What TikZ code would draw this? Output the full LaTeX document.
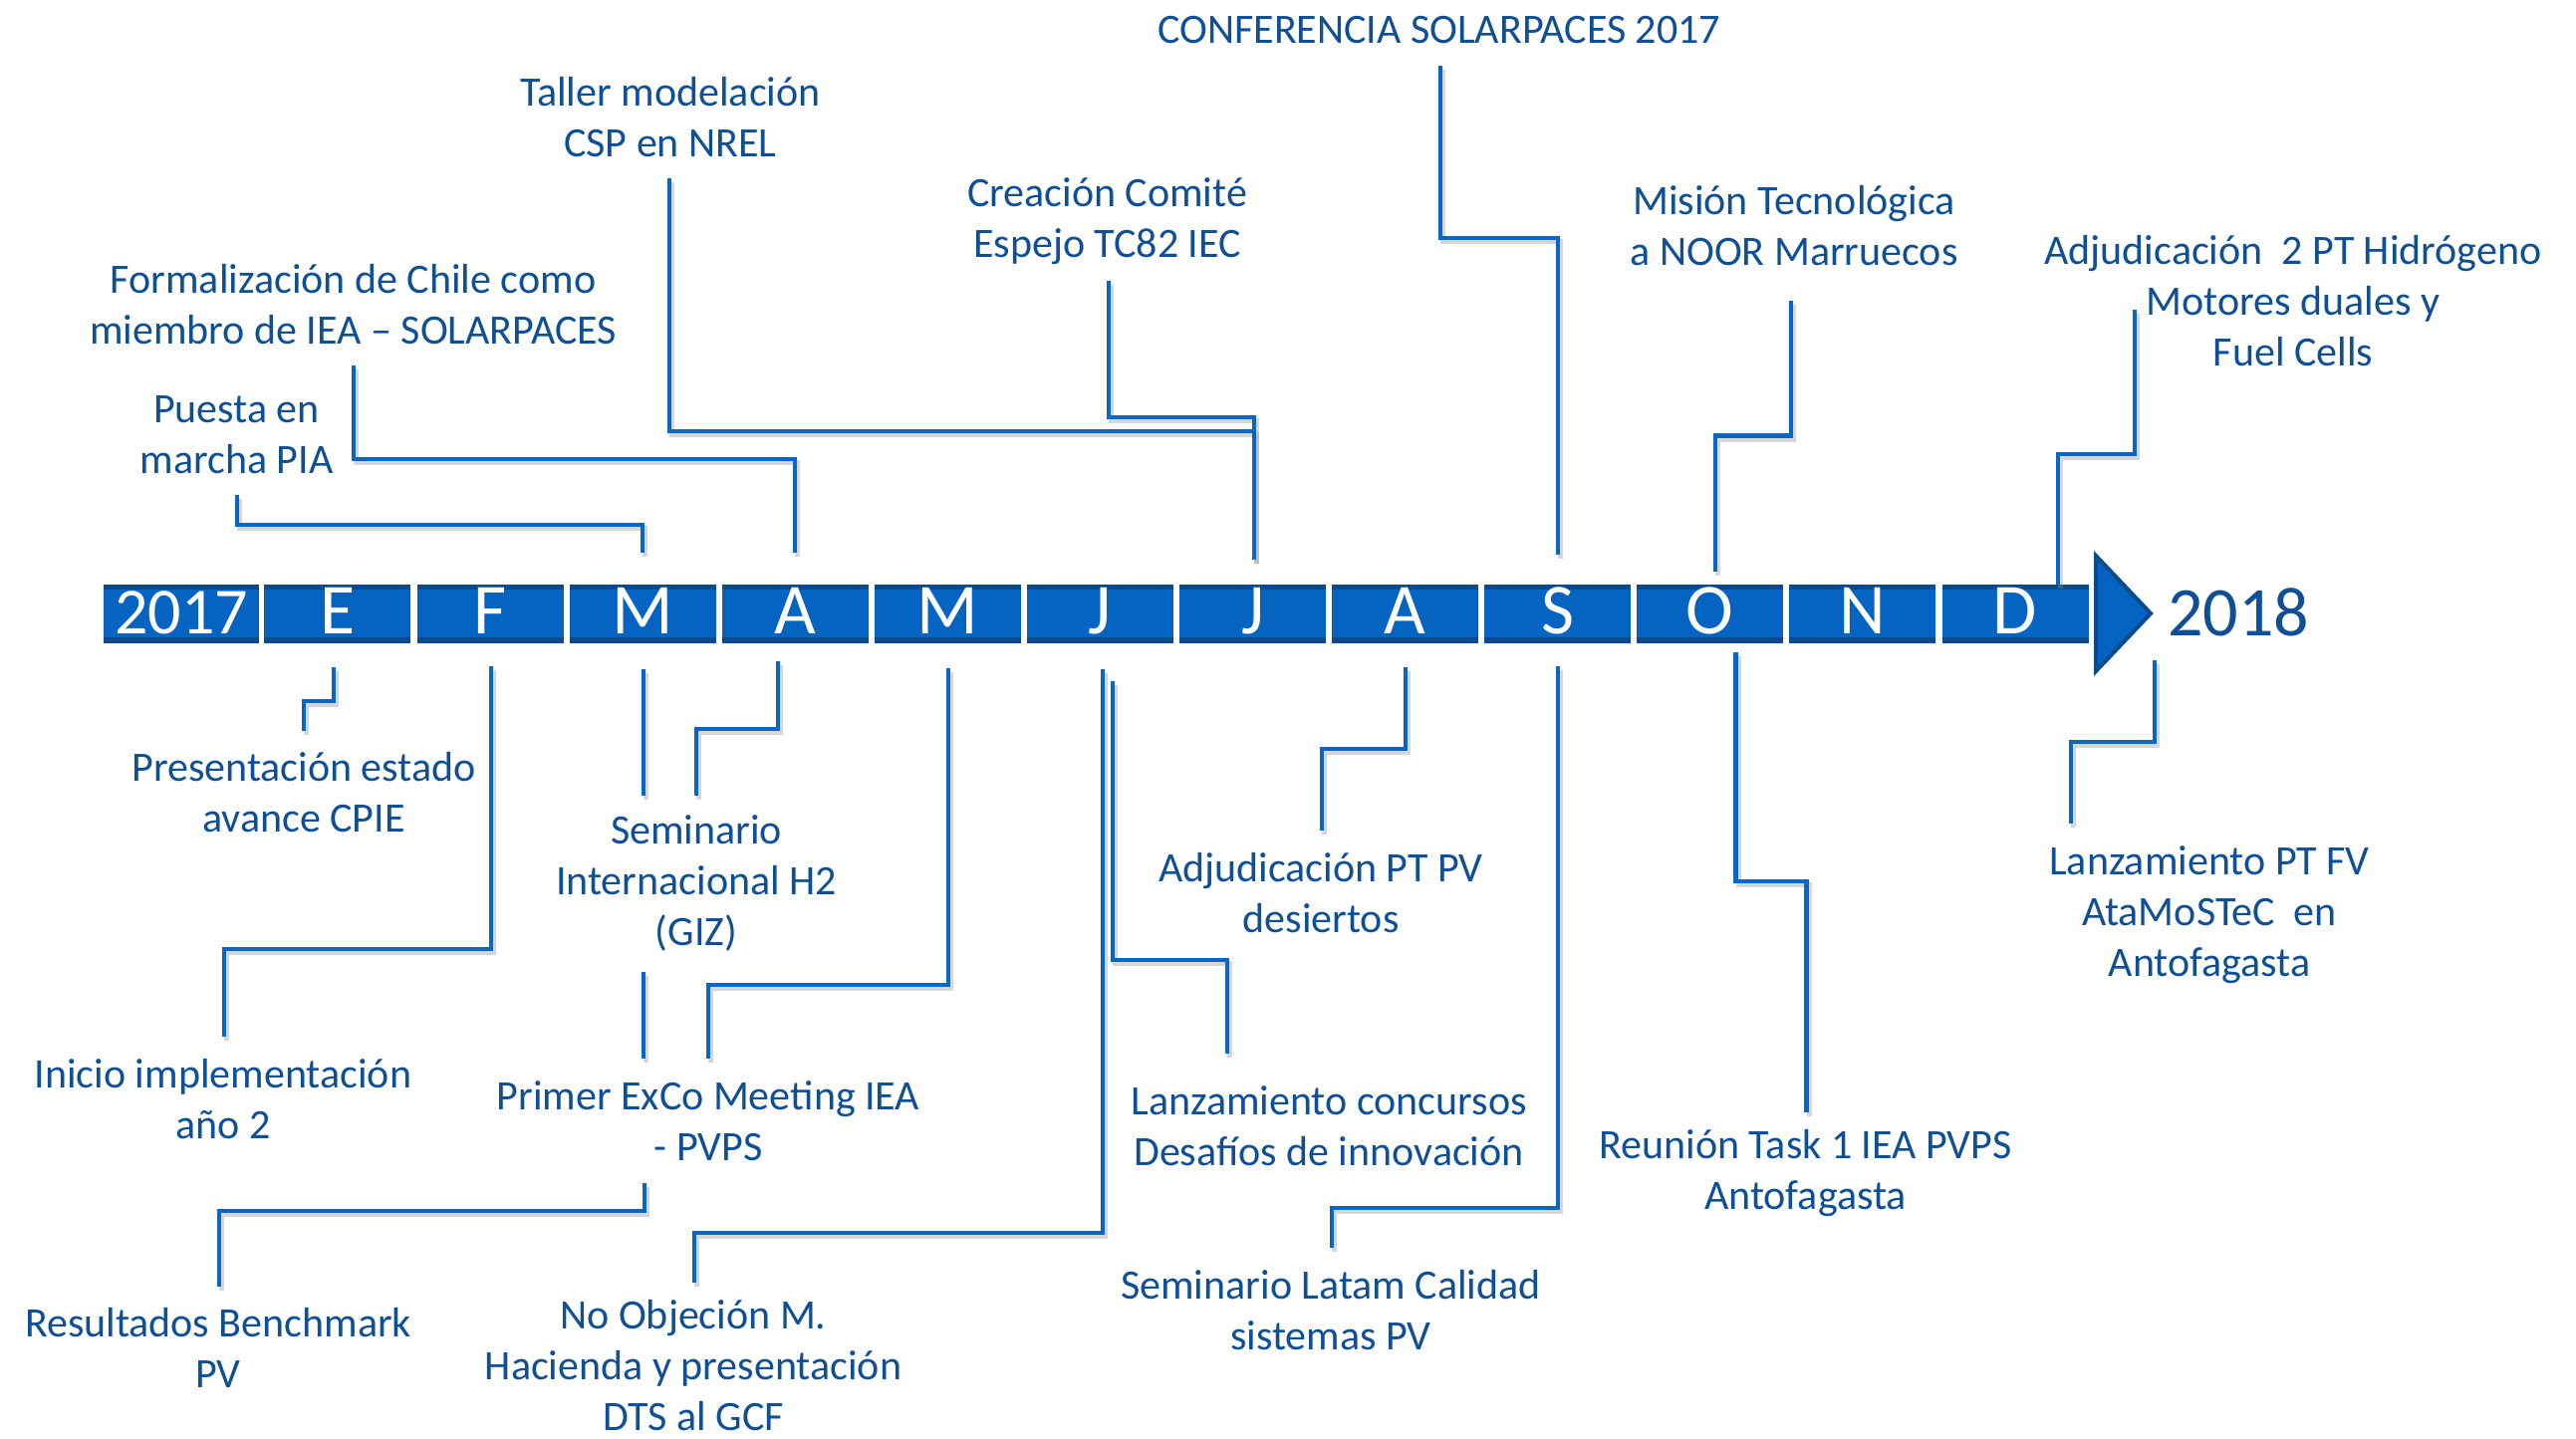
\documentclass[tikz,border=0pt]{standalone}
\usepackage{fontspec}
\setmainfont{Carlito}
\usetikzlibrary{calc}
\definecolor{barblue}{HTML}{0563C1}
\definecolor{bardark}{HTML}{0C4A8C}
\definecolor{txtblue}{HTML}{0E4F96}
\definecolor{lineblue}{HTML}{0866C4}
\newcommand{\tlconn}[3]{%
  \draw[shad] (#1) -- ++(0,#3) -| (#2);
  \draw[conn] (#1) -- ++(0,#3) -| (#2);}
\newcommand{\tlstraight}[2]{%
  \draw[shad] (#1) -- (#2);
  \draw[conn] (#1) -- (#2);}
\begin{document}
\begin{tikzpicture}[x=0.5pt,y=-0.5pt,
  lbl/.style={font=\fontsize{21pt}{25.5pt}\selectfont, text=txtblue, align=center, inner sep=0pt},
  conn/.style={draw=lineblue, line width=2.2pt},
  shad/.style={draw=black!45, line width=2.6pt, opacity=0.35, transform canvas={shift={(1.3pt,-1.8pt)}}},
  cell/.style={fill=barblue, minimum width=73.5pt, minimum height=29.5pt, inner sep=0pt,
    text=white, font=\fontsize{36pt}{40pt}\selectfont, text height=23.2pt, text depth=2.8pt,
    path picture={
      \fill[bardark] (path picture bounding box.north west) rectangle ([yshift=-2.5pt]path picture bounding box.north east);
      \fill[bardark] (path picture bounding box.south west) rectangle ([yshift=3pt]path picture bounding box.south east);}},
]
\useasboundingbox (0,0) rectangle (2586,1445);
\fill[white] (0,0) rectangle (2586,1445);

% ---------- timeline bar ----------
\node[cell, minimum width=78pt, font=\fontsize{33pt}{38pt}\selectfont, text height=21.5pt, text depth=1.5pt] (c0) at (182,616.5) {2017};
\foreach \i/\m/\n in {1/E/cE,2/F/cF,3/M/cMar,4/A/cApr,5/M/cMay,6/J/cJun,7/J/cJul,8/A/cAug,9/S/cSep,10/O/cOct,11/N/cNov,12/D/cDec}
  \node[cell] (\n) at ({265.4+153.1*(\i-1)+73.5},616.5) {\m};
\coordinate (arA) at (2104,558);
\coordinate (arB) at (2104,674);
\coordinate (arC) at (2159,616);
\filldraw[fill=barblue, draw=bardark, line width=2pt, line join=miter] (arA) -- (arC) -- (arB) -- cycle;
\node[font=\fontsize{35pt}{40pt}\selectfont, text=txtblue, inner sep=0pt, text height=22.5pt, text depth=0pt] (y2018) at (2247,615.8) {2018};

% ---------- labels above ----------
\node[lbl] (conf) at (1444.7,29.7) {CONFERENCIA SOLARPACES 2017};
\node[lbl] (taller) at (672.9,118) {Taller modelación\\CSP en NREL};
\node[lbl] (creacion) at (1111.6,221.7) {Creación Comité\\Espejo TC82 IEC};
\node[lbl] (formal) at (354.6,306) {Formalización de Chile como\\miembro de IEA – SOLARPACES};
\node[lbl] (puesta) at (237.5,436.2) {Puesta en\\marcha PIA};
\node[lbl] (mision) at (1801,226.7) {Misión Tecnológica\\a NOOR Marruecos};
\node[lbl] (adjh2) at (2302,301.8) {Adjudicación\ \ 2 PT Hidrógeno\\Motores duales y\\Fuel Cells};

% ---------- labels below ----------
\node[lbl] (pres) at (305,795.5) {Presentación estado\\avance CPIE};
\node[lbl] (semh2) at (699,887) {Seminario\\Internacional H2\\(GIZ)};
\node[lbl] (inicio) at (224,1104) {Inicio implementación\\año 2};
\node[lbl] (exco) at (711,1125.5) {Primer ExCo Meeting IEA\\- PVPS};
\node[lbl] (result) at (219,1353) {Resultados Benchmark\\PV};
\node[lbl] (noobj) at (696,1371.5) {No Objeción M.\\Hacienda y presentación\\DTS al GCF};
\node[lbl] (adjpv) at (1326,896.4) {Adjudicación PT PV\\desiertos};
\node[lbl] (lanzc) at (1334,1130.5) {Lanzamiento concursos\\Desafíos de innovación};
\node[lbl] (seml) at (1336,1315.5) {Seminario Latam Calidad\\sistemas PV};
\node[lbl] (reunion) at (1812.5,1178.5) {Reunión Task 1 IEA PVPS\\Antofagasta};
\node[lbl] (lanzfv) at (2218,919) {Lanzamiento PT FV\\AtaMoSTeC\ \ en\\Antofagasta};

% ---------- connector end points ----------
\coordinate (puestaE) at (238,497);   \coordinate (marT) at (645,555);
\coordinate (formalE) at (355,367);   \coordinate (aprT) at (798,555);
\coordinate (tallerE) at (672,179);   \coordinate (julT) at (1259,562);
\coordinate (creacionE) at (1113,282);
\coordinate (confE) at (1446,66);     \coordinate (sepT) at (1564,557);
\coordinate (misionE) at (1798,302);  \coordinate (octT) at (1722,574);
\coordinate (adjh2E) at (2143,311);   \coordinate (decT) at (2066,587);

\coordinate (eB) at (335,670);        \coordinate (presE) at (305,734);
\coordinate (fB) at (493,669);        \coordinate (inicioE) at (225,1041);
\coordinate (marB) at (646,672);      \coordinate (semh2Ea) at (646,799);
\coordinate (aprB) at (781,664);      \coordinate (semh2Eb) at (699,799);
\coordinate (semh2S) at (646,976);    \coordinate (excoEa) at (646,1063);
\coordinate (mayB) at (952,671);      \coordinate (excoEb) at (711,1063);
\coordinate (excoS) at (647,1188);    \coordinate (resultE) at (220,1292);
\coordinate (junB) at (1107,672);     \coordinate (noobjE) at (697,1288);
\coordinate (junB2) at (1117,684);    \coordinate (lanzcE) at (1232,1058);
\coordinate (augB) at (1411,670);     \coordinate (adjpvE) at (1327,834);
\coordinate (sepB) at (1564,669);     \coordinate (semlE) at (1337,1253);
\coordinate (octB) at (1742.5,655);   \coordinate (reunionE) at (1813.6,1117);
\coordinate (endB) at (2163,663);     \coordinate (lanzfvE) at (2079,827);

% ---------- connectors above ----------
\tlconn{puestaE}{marT}{30}
\tlconn{formalE}{aprT}{94}
\tlconn{tallerE}{julT}{254}
\tlconn{creacionE}{julT}{137}
\tlconn{confE}{sepT}{173}
\tlconn{misionE}{octT}{135.5}
\tlconn{adjh2E}{decT}{145}

% ---------- connectors below ----------
\tlconn{eB}{presE}{34}
\tlconn{fB}{inicioE}{284}
\tlstraight{marB}{semh2Ea}
\tlconn{aprB}{semh2Eb}{68}
\tlstraight{semh2S}{excoEa}
\tlconn{mayB}{excoEb}{318}
\tlconn{excoS}{resultE}{28}
\tlconn{junB}{noobjE}{566}
\tlconn{junB2}{lanzcE}{280}
\tlconn{augB}{adjpvE}{82}
\tlconn{sepB}{semlE}{544}
\tlconn{octB}{reunionE}{230}
\tlconn{endB}{lanzfvE}{82}
\end{tikzpicture}
\end{document}
